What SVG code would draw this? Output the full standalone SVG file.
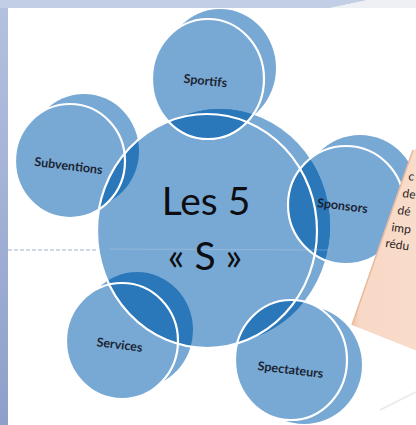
<svg xmlns="http://www.w3.org/2000/svg" width="416" height="425" viewBox="0 0 416 425">
<defs>
<style>
.fill{fill:#78a9d4}
.dark{fill:#2a77ba}
.ring{fill:none;stroke:#ffffff;stroke-width:2.2}
.lbl{font-family:Lato,"Open Sans","Liberation Sans",sans-serif;font-weight:bold;font-size:12.5px;fill:#1c2433;text-anchor:middle}
.big{font-family:Lato,"Open Sans","Liberation Sans",sans-serif;font-size:39px;fill:#0d0d12;text-anchor:middle}
.box{font-family:Lato,"Open Sans","Liberation Sans",sans-serif;font-size:12px;fill:#2a2522}
</style>
<linearGradient id="side" x1="0" y1="0" x2="0" y2="1">
<stop offset="0" stop-color="#b4c2e0"/>
<stop offset="1" stop-color="#8e9fca"/>
</linearGradient>
<linearGradient id="peach" x1="0" y1="0" x2="1" y2="0">
<stop offset="0" stop-color="#f0c6ab"/>
<stop offset="0.12" stop-color="#f8d8c6"/>
<stop offset="1" stop-color="#f9dccb"/>
</linearGradient>
<clipPath id="mainClip">
<ellipse cx="207" cy="231" rx="110" ry="117"/>
<ellipse cx="220" cy="226" rx="110" ry="117"/>
</clipPath>
</defs>

<g id="background">
<rect x="0" y="0" width="416" height="425" fill="#ffffff"/>
<rect x="0" y="0" width="8" height="425" fill="url(#side)"/>
<polygon points="0,0 368,0 330,8 0,8" fill="#c2cde6"/>
<polygon points="368,0 416,0 416,8 330,8" fill="#eef0f4"/>
<line x1="8" y1="250" x2="110" y2="250" stroke="#9fb6d2" stroke-width="1.2" stroke-dasharray="4,2"/>
<line x1="380" y1="410" x2="416" y2="392" stroke="#e6e8ec" stroke-width="1.5"/>
</g>

<g id="connectors"/>

<g id="main">
<ellipse class="fill" cx="220" cy="226" rx="110" ry="117"/>
<ellipse class="fill" cx="207" cy="231" rx="110" ry="117"/>
</g>

<g id="sportifs">
<ellipse class="fill" cx="220" cy="68" rx="56" ry="59"/>
<ellipse class="fill" cx="208" cy="79" rx="56" ry="60"/>
<g clip-path="url(#mainClip)">
<ellipse class="dark" cx="220" cy="68" rx="56" ry="59"/>
<ellipse class="dark" cx="208" cy="79" rx="56" ry="60"/>
</g>
</g>

<g id="subventions">
<ellipse class="fill" cx="84" cy="151" rx="55" ry="57"/>
<ellipse class="fill" cx="70" cy="161" rx="55" ry="57"/>
<g clip-path="url(#mainClip)">
<ellipse class="dark" cx="84" cy="151" rx="55" ry="57"/>
<ellipse class="dark" cx="70" cy="161" rx="55" ry="57"/>
</g>
</g>

<g id="sponsors">
<ellipse class="fill" cx="360" cy="195" rx="58" ry="60"/>
<ellipse class="fill" cx="346" cy="205" rx="58" ry="59"/>
<g clip-path="url(#mainClip)">
<ellipse class="dark" cx="360" cy="195" rx="58" ry="60"/>
<ellipse class="dark" cx="346" cy="205" rx="58" ry="59"/>
</g>
</g>

<g id="services">
<ellipse class="fill" cx="137" cy="330" rx="56" ry="58"/>
<ellipse class="fill" cx="122" cy="341" rx="56" ry="58"/>
<g clip-path="url(#mainClip)">
<ellipse class="dark" cx="137" cy="330" rx="56" ry="58"/>
<ellipse class="dark" cx="122" cy="341" rx="56" ry="58"/>
</g>
</g>

<g id="spectateurs">
<ellipse class="fill" cx="304" cy="365" rx="58" ry="59"/>
<ellipse class="fill" cx="291" cy="360" rx="56" ry="60"/>
<g clip-path="url(#mainClip)">
<ellipse class="dark" cx="304" cy="365" rx="58" ry="59"/>
<ellipse class="dark" cx="291" cy="360" rx="56" ry="60"/>
</g>
</g>

<g id="outlines">
<ellipse class="ring" cx="207" cy="231" rx="110" ry="117"/>
<ellipse class="ring" cx="208" cy="79" rx="56" ry="60"/>
<ellipse class="ring" cx="70" cy="161" rx="55" ry="57"/>
<ellipse class="ring" cx="346" cy="205" rx="58" ry="59"/>
<ellipse class="ring" cx="122" cy="341" rx="56" ry="58"/>
<ellipse class="ring" cx="291" cy="360" rx="56" ry="60"/>
</g>

<line x1="110" y1="249" x2="330" y2="250" stroke="#c9d6e6" stroke-width="1" opacity="0.35"/>

<g id="labels">
<text class="big" x="206" y="215">Les 5</text>
<text class="big" x="205" y="270">« S »</text>
<text class="lbl" transform="rotate(6 205 85)" x="205" y="85">Sportifs</text>
<text class="lbl" transform="rotate(7 68 170)" x="68" y="170">Subventions</text>
<text class="lbl" transform="rotate(7 342 210)" x="342" y="210">Sponsors</text>
<text class="lbl" transform="rotate(7 119 349)" x="119" y="349">Services</text>
<text class="lbl" transform="rotate(7 290 374)" x="290" y="374">Spectateurs</text>
</g>

<g id="note">
<polygon points="413,150 420,148 420,352 352,325" fill="url(#peach)"/>
<line x1="413" y1="150" x2="352" y2="325" stroke="#e9b99c" stroke-width="1.5"/>
<text class="box" transform="rotate(8 408 180)" x="408" y="180">c</text>
<text class="box" transform="rotate(8 402 197)" x="402" y="197">de</text>
<text class="box" transform="rotate(8 397 214)" x="397" y="214">dé</text>
<text class="box" transform="rotate(8 391 231)" x="391" y="231">imp</text>
<text class="box" transform="rotate(8 385 247)" x="385" y="247">rédu</text>
</g>
</svg>
